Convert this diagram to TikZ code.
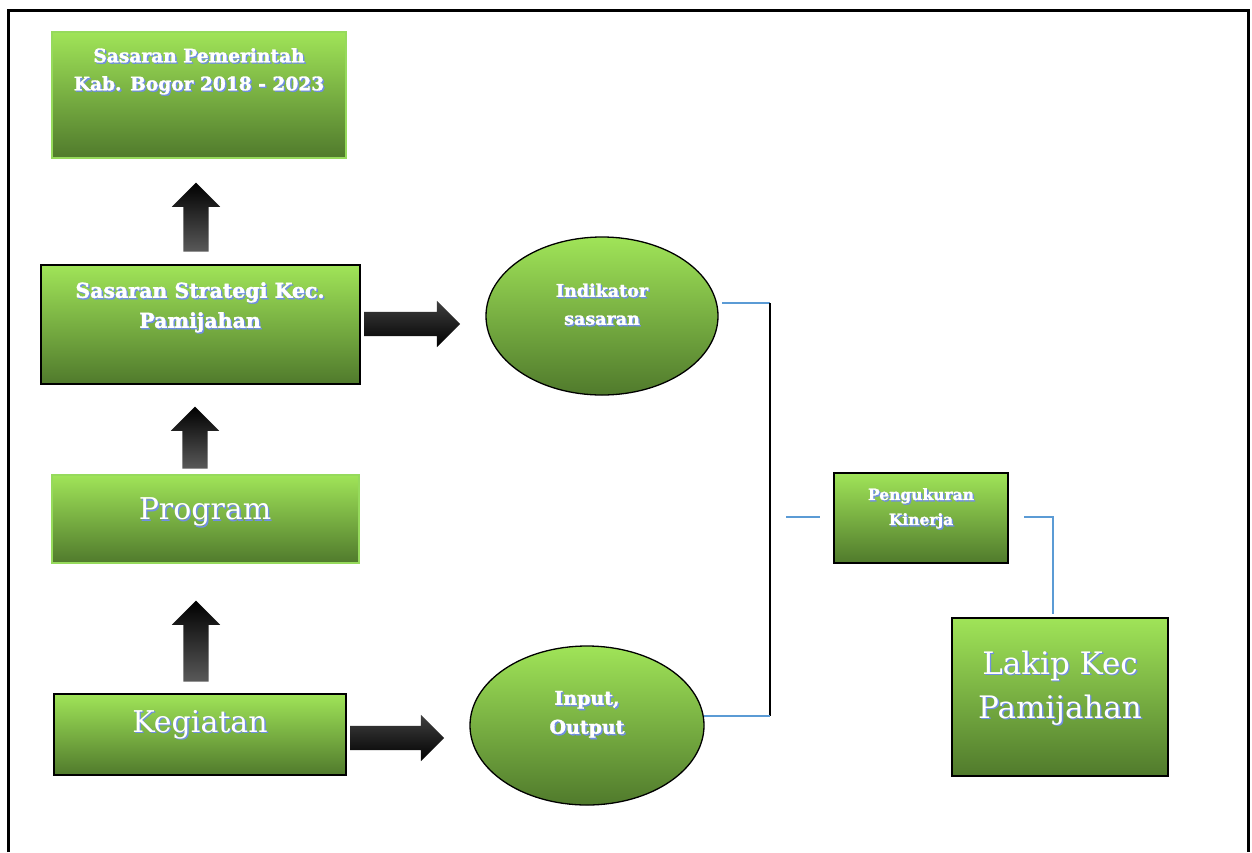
\documentclass[tikz,border=0pt]{standalone}
\usepackage{fontspec}
\setmainfont{DejaVu Serif}
\newfontfamily\heavyfont[UprightFont={* Bold}, UprightFeatures={FakeBold=1.6}]{DejaVu Serif}
\usetikzlibrary{shapes.geometric,shapes.arrows}
\definecolor{gLight}{RGB}{160,228,88}
\definecolor{gDark}{RGB}{80,122,44}
\definecolor{gEdge}{RGB}{150,218,92}
\definecolor{shBlue}{RGB}{112,142,228}
\definecolor{lnBlue}{RGB}{91,155,213}
\newcommand{\shtxt}[1]{\leavevmode\rlap{\kern1.4pt\raisebox{-1.4pt}{\textcolor{shBlue}{#1}}}\textcolor{white}{#1}}

\begin{document}
\begin{tikzpicture}[x=1pt,y=-1pt,
  gbox/.style={draw=black, line width=1.3pt, top color=gLight, bottom color=gDark, inner sep=0},
  gell/.style={ellipse, draw=black, line width=1.3pt, top color=gLight, bottom color=gDark, inner sep=0},
  uparrow/.style={single arrow, shape border rotate=90, inner sep=12.5pt, single arrow head extend=11.5pt,
    top color=black, bottom color=black!65, draw=none, minimum height=#1},
  rtarrow/.style={single arrow, inner sep=12pt, single arrow head extend=11pt,
    top color=black!75, bottom color=black, draw=none, minimum height=#1},
  txt/.style={align=center, inner sep=0},
  blueln/.style={draw=lnBlue, line width=1.3pt},
  blackln/.style={draw=black, line width=1.3pt}]
\useasboundingbox (0,0) rectangle (1252,852);

% frame
\draw[line width=3pt] (8,852) -- (8,10) -- (1248,10) -- (1248,852);

% boxes
\node[gbox, draw=gEdge, minimum width=294pt, minimum height=126pt] (pemkab) at (199,95) {};
\node[gbox, minimum width=319pt, minimum height=119pt] (strategi) at (200.5,324.5) {};
\node[gbox, draw=gEdge, minimum width=307pt, minimum height=88pt] (program) at (205.5,519) {};
\node[gbox, minimum width=292pt, minimum height=81pt] (kegiatan) at (200,734.5) {};
\node[gbox, minimum width=174pt, minimum height=90pt] (ukur) at (921,518) {};
\node[gbox, minimum width=216pt, minimum height=158pt] (lakip) at (1060,697) {};

% ellipses
\node[gell, minimum width=232pt, minimum height=158pt] (indikator) at (602,316) {};
\node[gell, minimum width=234pt, minimum height=159pt] (inout) at (587,725.5) {};

% block arrows
\node[uparrow=69pt] (up1) at (196,223.5) {};
\node[uparrow=62pt] (up2) at (195,444) {};
\node[uparrow=81pt] (up3) at (196,647.5) {};
\node[rtarrow=96pt] (rt1) at (406,324) {};
\node[rtarrow=94pt] (rt2) at (391,738) {};

% texts
\node[txt, font=\fontsize{18.6}{28}\heavyfont] (tpemkab) at (199,72)
  {\shtxt{Sasaran Pemerintah}\\\shtxt{Kab. Bogor 2018 - 2023}};
\node[txt, font=\fontsize{20.5}{30}\heavyfont] (tstrategi) at (200,308)
  {\shtxt{Sasaran Strategi Kec.}\\\shtxt{Pamijahan}};
\node[txt, font=\fontsize{30}{40}\selectfont] (tprogram) at (205,513) {\shtxt{Program}};
\node[txt, font=\fontsize{30}{40}\selectfont] (tkegiatan) at (200,725) {\shtxt{Kegiatan}};
\node[txt, font=\fontsize{15.5}{25}\heavyfont] (tukur) at (921,509)
  {\shtxt{Pengukuran}\\\shtxt{Kinerja}};
\node[txt, font=\fontsize{31}{44}\selectfont] (tlakip) at (1060,688.5)
  {\shtxt{Lakip Kec}\\\shtxt{Pamijahan}};
\node[txt, font=\fontsize{17.5}{28}\heavyfont] (tindikator) at (602,305)
  {\shtxt{Indikator}\\\shtxt{sasaran}};
\node[txt, font=\fontsize{19}{29}\heavyfont] (tinout) at (587,715)
  {\shtxt{Input,}\\\shtxt{Output}};

% connector lines
\coordinate (indR) at (722,303);
\coordinate (ioR) at (704,716);
\coordinate (jTop) at (770,303);
\coordinate (jBot) at (770,716);
\coordinate (ukL1) at (786,517);
\coordinate (ukL2) at (820,517);
\coordinate (ukR) at (1024,517);
\coordinate (ukC) at (1053,517);
\coordinate (lkT) at (1053,614);
\draw[blueln] (indR) -- (jTop);
\draw[blackln] (jTop) -- (jBot);
\draw[blueln] (ioR) -- (jBot);
\draw[blueln] (ukL1) -- (ukL2);
\draw[blueln] (ukR) -- (ukC) -- (lkT);
\end{tikzpicture}
\end{document}
